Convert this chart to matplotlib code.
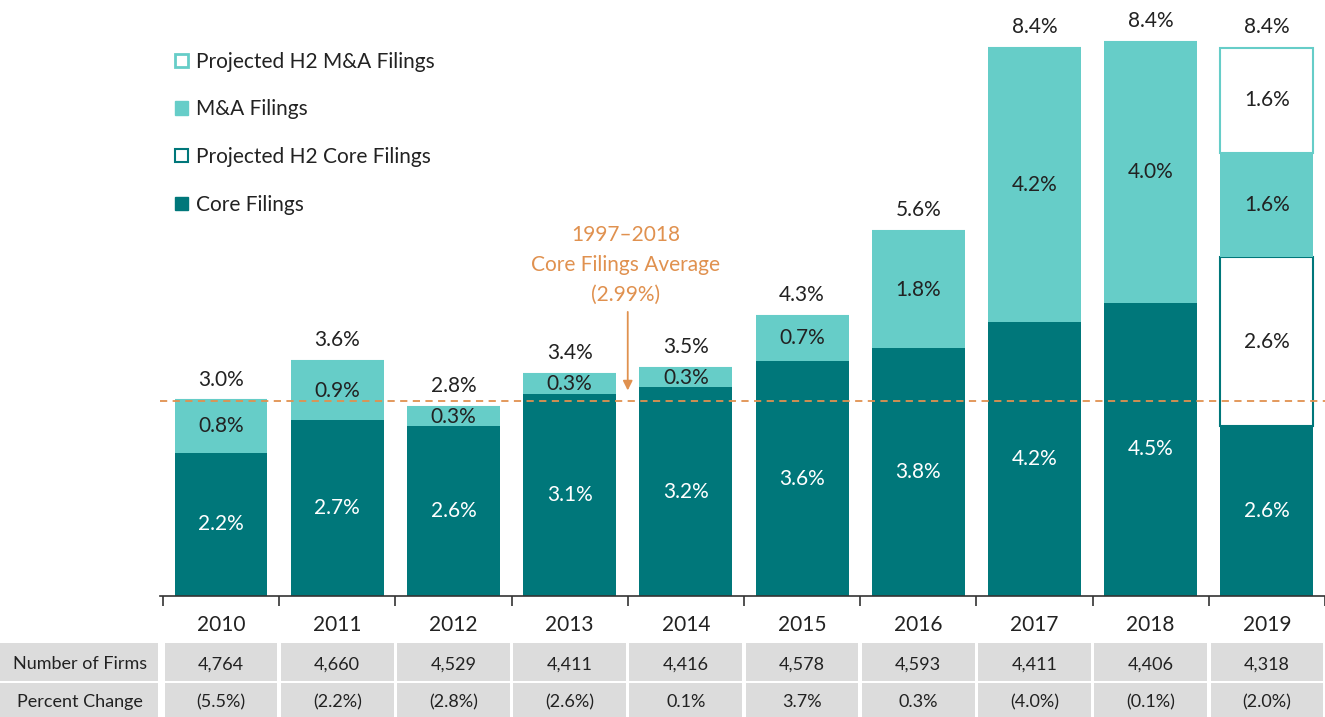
import numpy as np
import matplotlib
matplotlib.use("Agg")
import matplotlib.pyplot as plt
from matplotlib.patches import Patch, Rectangle

plt.rcParams['font.family'] = ['Lato', 'DejaVu Sans']

# data
years = ['2010', '2011', '2012', '2013', '2014', '2015', '2016', '2017', '2018', '2019']
core = [2.2, 2.7, 2.6, 3.1, 3.2, 3.6, 3.8, 4.2, 4.5, 2.6]
ma = [0.8, 0.9, 0.3, 0.3, 0.3, 0.7, 1.8, 4.2, 4.0, 1.6]
proj_core = [0, 0, 0, 0, 0, 0, 0, 0, 0, 2.6]
proj_ma = [0, 0, 0, 0, 0, 0, 0, 0, 0, 1.6]
totals = [3.0, 3.6, 2.8, 3.4, 3.5, 4.3, 5.6, 8.4, 8.4, 8.4]
firms = ['4,764', '4,660', '4,529', '4,411', '4,416', '4,578', '4,593', '4,411', '4,406', '4,318']
pct_change = ['(5.5%)', '(2.2%)', '(2.8%)', '(2.6%)', '0.1%', '3.7%', '0.3%', '(4.0%)', '(0.1%)', '(2.0%)']
core_avg = 2.99

DARK = '#00777A'
LIGHT = '#66CDC8'
ORANGE = '#E0914F'
TXT = '#222222'
GREY = '#DCDCDC'
FS = 15

fig = plt.figure(figsize=(13.25, 7.17), dpi=100)
ax = fig.add_axes([160 / 1325, 121 / 717, 1165 / 1325, 596 / 717])

x = np.arange(len(years))
w = 0.8
core = np.array(core)
ma = np.array(ma)
proj_core = np.array(proj_core)
proj_ma = np.array(proj_ma)

ax.bar(x, core, w, color=DARK, zorder=2)
ax.bar(x, proj_core, w, bottom=core, facecolor='white', edgecolor=DARK, linewidth=1.5, zorder=2)
ax.bar(x, ma, w, bottom=core + proj_core, color=LIGHT, zorder=2)
ax.bar(x, proj_ma, w, bottom=core + proj_core + ma, facecolor='white', edgecolor=LIGHT, linewidth=1.5, zorder=2)

# segment labels
for i in range(len(years)):
    ax.text(x[i], core[i] / 2, f'{core[i]:.1f}%', ha='center', va='center', color='white', fontsize=FS, zorder=4)
    b = core[i]
    if proj_core[i]:
        ax.text(x[i], b + proj_core[i] / 2, f'{proj_core[i]:.1f}%', ha='center', va='center', color=TXT, fontsize=FS, zorder=4)
        b += proj_core[i]
    ax.text(x[i], b + ma[i] / 2, f'{ma[i]:.1f}%', ha='center', va='center', color=TXT, fontsize=FS, zorder=4)
    b += ma[i]
    if proj_ma[i]:
        ax.text(x[i], b + proj_ma[i] / 2, f'{proj_ma[i]:.1f}%', ha='center', va='center', color=TXT, fontsize=FS, zorder=4)
        b += proj_ma[i]
    ax.annotate(f'{totals[i]:.1f}%', (x[i], b), xytext=(0, 15), textcoords='offset points',
                ha='center', va='center', color=TXT, fontsize=FS)

# core filings average line + annotation
ax.axhline(core_avg, color=ORANGE, linestyle=(0, (4, 3)), linewidth=1.3, zorder=3)
ax.text(3.48, 5.08, '1997\u20132018\nCore Filings Average\n(2.99%)', ha='center', va='center',
        color=ORANGE, fontsize=FS, linespacing=1.62)
ax.annotate('', xy=(3.5, core_avg + 0.12), xytext=(3.5, 4.4),
            arrowprops=dict(arrowstyle='-|>', color=ORANGE, lw=1.3, mutation_scale=14))

ax.set_xlim(-0.525, 9.5)
ax.set_ylim(0, 596 / 65.2)
for s in ['top', 'right', 'left']:
    ax.spines[s].set_visible(False)
ax.spines['bottom'].set_color('#333333')
ax.spines['bottom'].set_linewidth(1.2)
ax.set_yticks([])
ax.set_xticks(x)
ax.set_xticklabels(years, fontsize=FS, color=TXT)
ax.tick_params(axis='x', which='major', length=0, pad=14)
ax.set_xticks(np.arange(len(years) + 1) - 0.5, minor=True)
ax.tick_params(axis='x', which='minor', length=7, width=1.2, color='#333333')

# legend
handles = [
    Patch(facecolor='white', edgecolor=LIGHT, linewidth=2, label='Projected H2 M&A Filings'),
    Patch(facecolor=LIGHT, edgecolor=LIGHT, label='M&A Filings'),
    Patch(facecolor='white', edgecolor=DARK, linewidth=1.5, label='Projected H2 Core Filings'),
    Patch(facecolor=DARK, edgecolor=DARK, label='Core Filings'),
]
ax.legend(handles=handles, loc='upper left', bbox_to_anchor=(-0.003, 0.945), frameon=False,
          fontsize=FS, handlelength=0.6, handleheight=0.6, handletextpad=0.4,
          labelspacing=1.33, labelcolor=TXT)

# table under the chart
rows = [('Number of Firms', firms), ('Percent Change', pct_change)]
row_y = [(-0.0789, -0.1426), (-0.1460, -0.2030)]
trans = ax.get_xaxis_transform()
first_left = -221 / 116.3
for (name, vals), (y0, y1) in zip(rows, row_y):
    ax.add_patch(Rectangle((first_left, y1), -0.525 - first_left - 0.02, y0 - y1, transform=trans,
                           facecolor=GREY, edgecolor='none', clip_on=False))
    ax.text((first_left - 0.525) / 2, (y0 + y1) / 2 - 0.004, name, transform=trans, ha='center', va='center',
            fontsize=13, color=TXT)
    for i, v in enumerate(vals):
        ax.add_patch(Rectangle((x[i] - 0.5 + 0.015, y1), 0.97, y0 - y1, transform=trans,
                               facecolor=GREY, edgecolor='none', clip_on=False))
        ax.text(x[i], (y0 + y1) / 2 - 0.004, v, transform=trans, ha='center', va='center',
                fontsize=13, color=TXT)

fig.savefig('out.png', dpi=100)
